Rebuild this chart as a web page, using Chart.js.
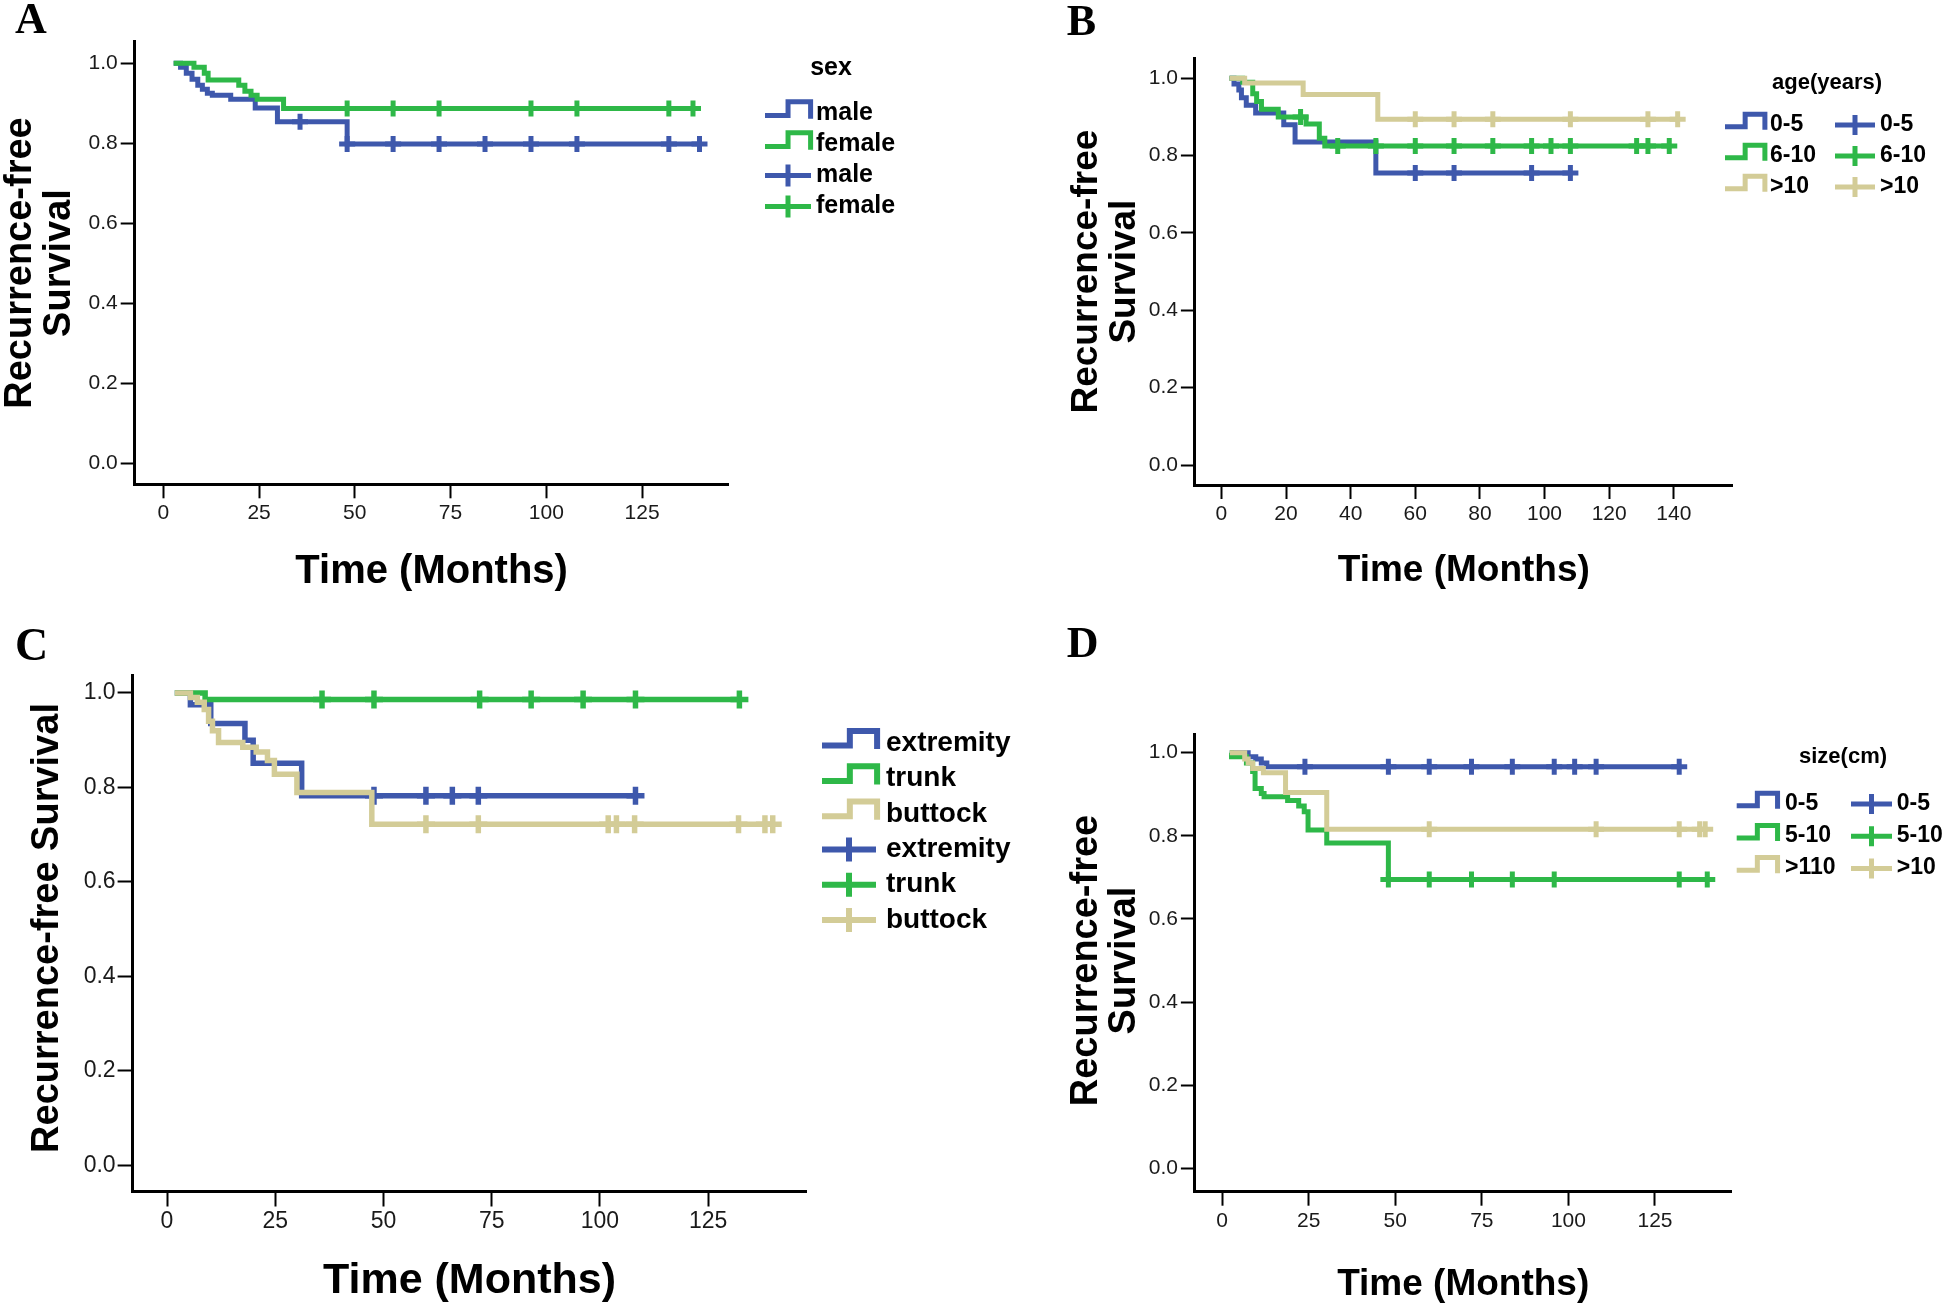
<!DOCTYPE html>
<html><head><meta charset="utf-8">
<script src="https://cdn.jsdelivr.net/npm/chart.js@4.4.1/dist/chart.umd.min.js"></script>
<style>
html,body{margin:0;padding:0;background:#fff;}
body{width:1946px;height:1307px;position:relative;overflow:hidden;}
canvas{position:absolute;}
</style></head><body>
<canvas id="cA" width="1060" height="615" style="left:0;top:0;width:1060px;height:615px"></canvas>
<canvas id="cB" width="886" height="615" style="left:1060px;top:0;width:886px;height:615px"></canvas>
<canvas id="cC" width="1060" height="692" style="left:0;top:615px;width:1060px;height:692px"></canvas>
<canvas id="cD" width="886" height="692" style="left:1060px;top:615px;width:886px;height:692px"></canvas>
<script>
// ---------- shared ticks ----------
const survTicks = [0.0, 0.2, 0.4, 0.6, 0.8, 1.0];
const survTickLabels = ['0.0', '0.2', '0.4', '0.6', '0.8', '1.0'];
const monthTicks25 = [0, 25, 50, 75, 100, 125];
const monthTicks20 = [0, 20, 40, 60, 80, 100, 120, 140];

// ---------- Panel A: sex ----------
const sexGroups = ['male', 'female'];
const maleT = [2.7, 4.5, 6, 7.5, 9, 10.2, 11.5, 12.8, 17.6, 24, 29.8, 48];
const maleS = [1.0, 0.99, 0.975, 0.96, 0.945, 0.935, 0.925, 0.92, 0.91, 0.888, 0.854, 0.798];
const maleC = [35.7, 48, 60, 72, 84, 96, 108, 132, 140];
const femaleT = [2.7, 8, 10.7, 11.7, 19.7, 21.3, 22.9, 24.5, 31.4];
const femaleS = [1.0, 0.99, 0.975, 0.958, 0.945, 0.93, 0.92, 0.91, 0.887];
const femaleC = [48, 60, 72, 96, 108, 132, 138.3];

// ---------- Panel B: age(years) ----------
const ageGroups = ['0-5', '6-10', '>10'];
const age05T = [2.5, 3.9, 5.4, 6.2, 7.7, 10.6, 19.3, 22.8, 47.8];
const age05S = [1.0, 0.985, 0.97, 0.95, 0.93, 0.91, 0.88, 0.835, 0.755];
const age05C = [60, 72, 96, 108];
const age610T = [2.5, 6.6, 9.7, 10.9, 12.4, 17.6, 26.2, 30.3, 32];
const age610S = [1.0, 0.99, 0.96, 0.94, 0.92, 0.9, 0.882, 0.845, 0.825];
const age610C = [24.5, 36, 47.8, 60, 72, 84, 96, 102, 108, 128.5, 132, 138.6];
const age10T = [2.5, 7.2, 25.3, 48.4];
const age10S = [1.0, 0.988, 0.958, 0.894];
const age10C = [60, 72, 84, 108, 132, 141.2];

// ---------- Panel C: site ----------
const siteGroups = ['extremity', 'trunk', 'buttock'];
const extT = [1.8, 5.4, 10.1, 18, 19.9, 31.1];
const extS = [1.0, 0.975, 0.935, 0.9, 0.851, 0.782];
const extC = [47.8, 59.8, 65.9, 71.9, 108.2];
const trunkT = [1.8, 8.8];
const trunkS = [1.0, 0.986];
const trunkC = [35.8, 47.8, 72.2, 84.1, 96.1, 108.2, 132.2];
const buttT = [1.8, 5.4, 7, 8.6, 9.6, 10.5, 11.9, 17.5, 20.6, 23.2, 24.8, 30, 47.3];
const buttS = [1.0, 0.99, 0.98, 0.965, 0.94, 0.92, 0.895, 0.885, 0.875, 0.857, 0.828, 0.789, 0.722];
const buttC = [59.8, 71.9, 101.9, 103.8, 108, 132, 138.1, 139.9];

// ---------- Panel D: size(cm) ----------
const sizeStepLabels = ['0-5', '5-10', '>110'];
const sizeGroups = ['0-5', '5-10', '>10'];
const s05T = [2.2, 7.5, 9.7, 11.3, 12.9];
const s05S = [1.0, 0.99, 0.985, 0.975, 0.966];
const s05C = [23.9, 48, 59.8, 72, 83.8, 95.9, 101.8, 108, 132];
const s510T = [2.2, 2.7, 7, 8.8, 9.5, 11.3, 12.1, 18.9, 22.1, 23.7, 24.8, 30.2, 48];
const s510S = [1.0, 0.99, 0.975, 0.955, 0.914, 0.902, 0.894, 0.885, 0.872, 0.858, 0.814, 0.783, 0.695];
const s510C = [48, 59.8, 72, 83.8, 95.9, 132, 140.1];
const s10T = [2.2, 6.5, 7.5, 8.8, 11.9, 18.3, 30.2];
const s10S = [1.0, 0.985, 0.975, 0.962, 0.952, 0.904, 0.816];
const s10C = [59.8, 108, 132, 137.9, 139.5];

const BLUE = '#3E58AC', GREEN = '#2EB848', TAN = '#D3CC97';
const SANS = "'Liberation Sans', Arial, sans-serif";
const SERIF = "'Liberation Serif', 'Times New Roman', serif";

// ---------- helpers ----------
function km(T, S, C) {
  const pts = T.map((t, i) => ({x: t, y: S[i]}));
  const last = C.length ? Math.max(...C) : T[T.length - 1];
  if (last > T[T.length - 1]) pts.push({x: last, y: S[S.length - 1]});
  const at = t => { let v = S[0]; for (let i = 0; i < T.length; i++) if (T[i] <= t) v = S[i]; return v; };
  return {pts, cens: C.map(t => ({x: t, y: at(t)}))};
}
function txt(ctx, s, x, y, font, align) {
  ctx.save(); ctx.font = font; ctx.fillStyle = '#000'; ctx.textAlign = align || 'left';
  ctx.textBaseline = 'alphabetic'; ctx.fillText(s, x, y); ctx.restore();
}
function vtxt(ctx, s, x, y, font) {
  ctx.save(); ctx.translate(x, y); ctx.rotate(-Math.PI / 2); ctx.font = font; ctx.fillStyle = '#000';
  ctx.textAlign = 'center'; ctx.textBaseline = 'alphabetic'; ctx.fillText(s, 0, 0); ctx.restore();
}
function stepIcon(ctx, x0, cy, w, h, color, lw) {
  ctx.save(); ctx.strokeStyle = color; ctx.lineWidth = lw; ctx.lineJoin = 'miter'; ctx.lineCap = 'butt';
  ctx.beginPath();
  ctx.moveTo(x0, cy + 0.15 * h); ctx.lineTo(x0 + 0.48 * w, cy + 0.15 * h);
  ctx.lineTo(x0 + 0.48 * w, cy - 0.9 * h); ctx.lineTo(x0 + 0.95 * w, cy - 0.9 * h);
  ctx.lineTo(x0 + 0.95 * w, cy + 0.4 * h); ctx.stroke(); ctx.restore();
}
function crossIcon(ctx, x0, cy, w, h, color, lw) {
  ctx.save(); ctx.strokeStyle = color; ctx.lineWidth = lw; ctx.lineCap = 'butt';
  ctx.beginPath(); ctx.moveTo(x0, cy); ctx.lineTo(x0 + w, cy);
  ctx.moveTo(x0 + w / 2, cy - h); ctx.lineTo(x0 + w / 2, cy + h); ctx.stroke(); ctx.restore();
}

function panel(id, P) {
  const ds = [];
  const n = P.series.length;
  P.series.forEach((s, g) => {
    const k = km(s.T, s.S, s.C);
    ds.push({type: 'line', label: s.label, data: k.pts, stepped: true, borderColor: s.color, borderWidth: P.lw,
      pointRadius: 0, fill: false, tension: 0, borderJoinStyle: 'miter', order: (n - g) * 2});
    ds.push({type: 'scatter', label: s.label + ' censored', data: k.cens, showLine: false, pointStyle: 'cross',
      pointRadius: P.cr, borderWidth: P.cw, borderColor: s.color, backgroundColor: s.color, order: (n - g) * 2 - 1});
  });
  const A = P.area;
  const axisCommon = {
    grid: {display: true, drawOnChartArea: false, drawTicks: true, tickLength: P.tl, tickWidth: 2, tickColor: '#000'},
    border: {display: true, color: '#000', width: 3}
  };
  new Chart(document.getElementById(id), {
    type: 'scatter',
    data: {datasets: ds},
    options: {
      responsive: false, animation: false, devicePixelRatio: 1,
      layout: {padding: {left: 0, top: A.top, right: P.W - A.right, bottom: 0}},
      plugins: {legend: {display: false}, tooltip: {enabled: false}},
      scales: {
        x: Object.assign({
          type: 'linear', min: P.xMin, max: P.xMax,
          afterBuildTicks: sc => { sc.ticks = P.xTicks.map(v => ({value: v})); },
          afterFit: sc => { sc.height = P.H - A.bottom; },
          ticks: {font: {size: P.tf, family: SANS}, color: '#1a1a1a', padding: P.xPad, maxRotation: 0, autoSkip: false,
            callback: v => String(v)}
        }, axisCommon),
        y: Object.assign({
          type: 'linear', min: P.yMin, max: P.yMax,
          afterBuildTicks: sc => { sc.ticks = survTicks.map(v => ({value: v})); },
          afterFit: sc => { sc.width = A.left; },
          ticks: {font: {size: P.tf, family: SANS}, color: '#1a1a1a', padding: P.yPad, autoSkip: false,
            callback: (v, i) => survTickLabels[i]}
        }, axisCommon)
      }
    },
    plugins: [{id: 'texts', afterDraw: c => P.draw(c.ctx)}]
  });
}

// ---------- Panel A ----------
panel('cA', {
  W: 1060, H: 615, area: {left: 134.7, top: 41.7, right: 728.6, bottom: 484.3},
  xMin: -7.47, xMax: 147.6, yMin: -0.053, yMax: 1.054, xTicks: monthTicks25,
  tf: 21, tl: 14, xPad: 2, yPad: 3, lw: 5, cr: 8, cw: 5,
  series: [
    {label: sexGroups[0], color: BLUE, T: maleT, S: maleS, C: maleC},
    {label: sexGroups[1], color: GREEN, T: femaleT, S: femaleS, C: femaleC}
  ],
  draw: ctx => {
    txt(ctx, 'A', 15, 33, 'bold 44px ' + SERIF);
    vtxt(ctx, 'Recurrence-free', 31, 263, 'bold 38px ' + SANS);
    vtxt(ctx, 'Survival', 70, 263, 'bold 38px ' + SANS);
    txt(ctx, 'Time (Months)', 431.6, 583, 'bold 40px ' + SANS, 'center');
    txt(ctx, 'sex', 831, 75, 'bold 25px ' + SANS, 'center');
    const cols = [BLUE, GREEN];
    sexGroups.forEach((g, i) => {
      const cy = 113.5 + 31 * i;
      stepIcon(ctx, 765, cy, 48, 13, cols[i], 5);
      txt(ctx, g, 816, cy + 6.5, 'bold 25px ' + SANS);
    });
    sexGroups.forEach((g, i) => {
      const cy = 113.5 + 31 * (i + 2);
      crossIcon(ctx, 765, cy, 46, 11, cols[i], 5);
      txt(ctx, g, 816, cy + 6.5, 'bold 25px ' + SANS);
    });
  }
});

// ---------- Panel B ----------
panel('cB', {
  W: 886, H: 615, area: {left: 134.9, top: 58.3, right: 672.6, bottom: 485},
  xMin: -8.2, xMax: 158.2, yMin: -0.0517, yMax: 1.0517, xTicks: monthTicks20,
  tf: 21, tl: 14, xPad: 3, yPad: 3, lw: 5, cr: 8, cw: 5,
  series: [
    {label: ageGroups[0], color: BLUE, T: age05T, S: age05S, C: age05C},
    {label: ageGroups[1], color: GREEN, T: age610T, S: age610S, C: age610C},
    {label: ageGroups[2], color: TAN, T: age10T, S: age10S, C: age10C}
  ],
  draw: ctx => {
    txt(ctx, 'B', 6.7, 35, 'bold 44px ' + SERIF);
    vtxt(ctx, 'Recurrence-free', 37, 271.6, 'bold 37px ' + SANS);
    vtxt(ctx, 'Survival', 75, 271.6, 'bold 37px ' + SANS);
    txt(ctx, 'Time (Months)', 403.8, 581, 'bold 37px ' + SANS, 'center');
    txt(ctx, 'age(years)', 767, 89, 'bold 22px ' + SANS, 'center');
    const cols = [BLUE, GREEN, TAN];
    ageGroups.forEach((g, i) => {
      const cy = 125 + 31 * i;
      stepIcon(ctx, 665, cy, 42, 12, cols[i], 5);
      txt(ctx, g, 710, cy + 6, 'bold 23px ' + SANS);
      crossIcon(ctx, 775, cy, 40, 10, cols[i], 5);
      txt(ctx, g, 820, cy + 6, 'bold 23px ' + SANS);
    });
  }
});

// ---------- Panel C ----------
panel('cC', {
  W: 1060, H: 692, area: {left: 132.6, top: 60, right: 806.5, bottom: 576.5},
  xMin: -7.95, xMax: 147.7, yMin: -0.0557, yMax: 1.0379, xTicks: monthTicks25,
  tf: 23, tl: 15, xPad: 1, yPad: 2, lw: 5.5, cr: 9, cw: 5.5,
  series: [
    {label: siteGroups[0], color: BLUE, T: extT, S: extS, C: extC},
    {label: siteGroups[1], color: GREEN, T: trunkT, S: trunkS, C: trunkC},
    {label: siteGroups[2], color: TAN, T: buttT, S: buttS, C: buttC}
  ],
  draw: ctx => {
    txt(ctx, 'C', 15, 45, 'bold 46px ' + SERIF);
    vtxt(ctx, 'Recurrence-free Survival', 58, 313, 'bold 38px ' + SANS);
    txt(ctx, 'Time (Months)', 469.5, 678, 'bold 43px ' + SANS, 'center');
    const cols = [BLUE, GREEN, TAN];
    siteGroups.forEach((g, i) => {
      const cy = 128.5 + 35.3 * i;
      stepIcon(ctx, 822, cy, 58, 14, cols[i], 6);
      txt(ctx, g, 886, cy + 7.5, 'bold 28px ' + SANS);
    });
    siteGroups.forEach((g, i) => {
      const cy = 128.5 + 35.3 * (i + 3);
      crossIcon(ctx, 822, cy, 54, 12, cols[i], 6);
      txt(ctx, g, 886, cy + 7.5, 'bold 28px ' + SANS);
    });
  }
});

// ---------- Panel D ----------
panel('cD', {
  W: 886, H: 692, area: {left: 134.9, top: 119.7, right: 671.5, bottom: 576.7},
  xMin: -7.88, xMax: 147.1, yMin: -0.0563, yMax: 1.0433, xTicks: monthTicks25,
  tf: 21, tl: 14, xPad: 3, yPad: 3, lw: 5, cr: 8, cw: 5,
  series: [
    {label: sizeGroups[0], color: BLUE, T: s05T, S: s05S, C: s05C},
    {label: sizeGroups[1], color: GREEN, T: s510T, S: s510S, C: s510C},
    {label: sizeGroups[2], color: TAN, T: s10T, S: s10S, C: s10C}
  ],
  draw: ctx => {
    txt(ctx, 'D', 6.7, 41.7, 'bold 44px ' + SERIF);
    vtxt(ctx, 'Recurrence-free', 37, 345.5, 'bold 38px ' + SANS);
    vtxt(ctx, 'Survival', 75, 345.5, 'bold 38px ' + SANS);
    txt(ctx, 'Time (Months)', 403.2, 680, 'bold 37px ' + SANS, 'center');
    txt(ctx, 'size(cm)', 783, 148, 'bold 22px ' + SANS, 'center');
    const cols = [BLUE, GREEN, TAN];
    sizeGroups.forEach((g, i) => {
      const cy = 189 + 32.2 * i;
      stepIcon(ctx, 676.7, cy, 43, 12, cols[i], 5);
      txt(ctx, sizeStepLabels[i], 725, cy + 6, 'bold 23px ' + SANS);
      crossIcon(ctx, 791, cy, 41, 10, cols[i], 5);
      txt(ctx, g, 836.7, cy + 6, 'bold 23px ' + SANS);
    });
  }
});
</script>
</body></html>
